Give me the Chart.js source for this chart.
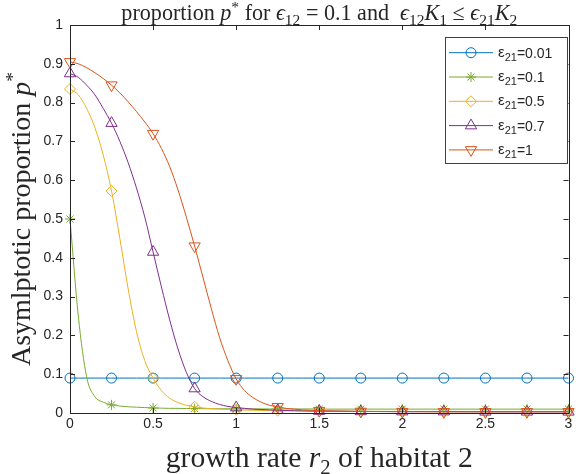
<!DOCTYPE html>
<html>
<head>
<meta charset="utf-8">
<script src="https://cdn.jsdelivr.net/npm/chart.js@4.4.1/dist/chart.umd.min.js"></script>
<style>
  html, body { margin: 0; padding: 0; background: #fff; }
  canvas { display: block; }
</style>
</head>
<body>
<canvas id="chart" width="576" height="474"></canvas>
<script>
// growth rate r2 (x samples), markers sit on the multiples of 0.25
const r2 = [0, 0.05, 0.1, 0.15, 0.2, 0.25, 0.3, 0.35, 0.4, 0.45, 0.5, 0.55, 0.6, 0.65, 0.7, 0.75, 0.8, 0.85, 0.9, 0.95,
  1, 1.05, 1.1, 1.15, 1.2, 1.25, 1.3, 1.35, 1.4, 1.45, 1.5, 1.75, 2, 2.25, 2.5, 2.75, 3]

const eps21 = ['0.01', '0.1', '0.5', '0.7', '1']

const pEps001 = [0.09, 0.09, 0.09, 0.09, 0.09, 0.09, 0.09, 0.09, 0.09, 0.09, 0.09, 0.09, 0.09, 0.09, 0.09, 0.09, 0.09, 0.09, 0.09, 0.09,
  0.09, 0.09, 0.09, 0.09, 0.09, 0.09, 0.09, 0.09, 0.09, 0.09, 0.09, 0.09, 0.09, 0.09, 0.09, 0.09, 0.09]
const pEps01 = [0.5, 0.25, 0.093, 0.042, 0.028, 0.021, 0.018, 0.016, 0.015, 0.014, 0.013, 0.0125, 0.012, 0.012, 0.0115, 0.0115, 0.011, 0.011, 0.011, 0.011,
  0.0105, 0.0105, 0.0105, 0.0105, 0.0105, 0.0105, 0.0105, 0.0105, 0.0105, 0.0105, 0.01, 0.01, 0.01, 0.01, 0.01, 0.01, 0.01]
const pEps05 = [0.835, 0.82, 0.785, 0.735, 0.665, 0.572, 0.45, 0.32, 0.21, 0.135, 0.09, 0.058, 0.038, 0.027, 0.02, 0.016, 0.013, 0.011, 0.01, 0.009,
  0.008, 0.0075, 0.007, 0.0065, 0.006, 0.006, 0.0055, 0.0055, 0.005, 0.005, 0.005, 0.0045, 0.004, 0.004, 0.004, 0.004, 0.004]
const pEps07 = [0.875, 0.865, 0.845, 0.82, 0.785, 0.747, 0.7, 0.645, 0.58, 0.505, 0.415, 0.325, 0.24, 0.165, 0.105, 0.063, 0.042, 0.03, 0.022, 0.017,
  0.014, 0.012, 0.01, 0.009, 0.008, 0.007, 0.0065, 0.006, 0.0055, 0.005, 0.005, 0.004, 0.0035, 0.0035, 0.003, 0.003, 0.003]
const pEps1 = [0.905, 0.9, 0.89, 0.877, 0.862, 0.845, 0.825, 0.802, 0.777, 0.75, 0.72, 0.682, 0.635, 0.575, 0.505, 0.43, 0.35, 0.27, 0.195, 0.135,
  0.088, 0.058, 0.04, 0.028, 0.02, 0.016, 0.012, 0.01, 0.008, 0.007, 0.006, 0.004, 0.0035, 0.003, 0.003, 0.003, 0.003]

const xTicks = [0, 0.5, 1, 1.5, 2, 2.5, 3]
const yTicks = [0, 0.1, 0.2, 0.3, 0.4, 0.5, 0.6, 0.7, 0.8, 0.9, 1]

const SERIES = [
  { label: eps21[0], data: pEps001, color: '#0072BD', style: 'circle', rot: 0, r: 5, order: 4 },
  { label: eps21[1], data: pEps01, color: '#77AC30', style: 'star', rot: 0, r: 5, order: 3 },
  { label: eps21[2], data: pEps05, color: '#EDB120', style: 'rectRot', rot: 0, r: 5.5, order: 2 },
  { label: eps21[3], data: pEps07, color: '#7E2F8E', style: 'triangle', rot: 0, r: 6.5, order: 1 },
  { label: eps21[4], data: pEps1, color: '#D95319', style: 'triangle', rot: 180, r: 6.5, order: 0 },
]

const AX = '#262626'
const SANS = "'Liberation Sans', Arial, Helvetica, sans-serif"
const SERIF = "'Liberation Serif', 'DejaVu Serif', serif"

const onMarker = (x) => Math.abs(x * 4 - Math.round(x * 4)) < 1e-6

// --- rich text (italics / sub / superscripts) ---
function runFont(r, size, family) {
  const s = r.sub || r.sup ? size * 0.7 : size
  return (r.i ? 'italic ' : '') + s.toFixed(2) + 'px ' + family
}
function richWidth(ctx, runs, size, family) {
  let w = 0
  for (const r of runs) { ctx.font = runFont(r, size, family); w += ctx.measureText(r.t).width }
  return w
}
function drawRich(ctx, runs, cx, y, size, family) {
  const w = richWidth(ctx, runs, size, family)
  let x = cx - w / 2
  ctx.textAlign = 'left'
  ctx.textBaseline = 'alphabetic'
  for (const r of runs) {
    ctx.font = runFont(r, size, family)
    const dy = r.sub ? size * 0.22 : r.sup ? -size * 0.38 : 0
    ctx.fillText(r.t, x, y + dy)
    x += ctx.measureText(r.t).width
  }
}
function fitSize(ctx, runs, family, target) {
  return 20 * target / richWidth(ctx, runs, 20, family)
}

const titleRuns = [
  { t: 'proportion ' }, { t: 'p', i: true }, { t: '*', sup: true }, { t: ' for ' },
  { t: 'ϵ', i: true }, { t: '12', sub: true }, { t: ' = 0.1 and  ' },
  { t: 'ϵ', i: true }, { t: '12', sub: true }, { t: 'K', i: true }, { t: '1', sub: true }, { t: ' ≤ ' },
  { t: 'ϵ', i: true }, { t: '21', sub: true }, { t: 'K', i: true }, { t: '2', sub: true },
]
const xLabelRuns = [{ t: 'growth rate ' }, { t: 'r', i: true }, { t: '2', sub: true }, { t: ' of habitat 2' }]
const yLabelRuns = [{ t: 'Asymlptotic proportion ' }, { t: 'p', i: true }, { t: '*', sup: true }]

const decorations = {
  id: 'decorations',
  afterDatasetsDraw(chart) {
    const { ctx, chartArea: { left, right, top, bottom }, scales: { x, y } } = chart
    ctx.save()
    ctx.strokeStyle = AX
    ctx.lineWidth = 1
    ctx.beginPath()
    ctx.rect(Math.round(left) + 0.5, Math.round(top) + 0.5, Math.round(right - left), Math.round(bottom - top))
    xTicks.forEach((v) => {
      const px = Math.round(x.getPixelForValue(v)) + 0.5
      ctx.moveTo(px, bottom); ctx.lineTo(px, bottom - 5)
      ctx.moveTo(px, top); ctx.lineTo(px, top + 5)
    })
    yTicks.forEach((v) => {
      const py = Math.round(y.getPixelForValue(v)) + 0.5
      ctx.moveTo(left, py); ctx.lineTo(left + 5, py)
      ctx.moveTo(right, py); ctx.lineTo(right - 5, py)
    })
    ctx.stroke()
    ctx.restore()
  },
  afterDraw(chart) {
    const { ctx, chartArea: { left, right, top, bottom } } = chart
    const cx = (left + right) / 2
    ctx.save()
    ctx.fillStyle = AX
    drawRich(ctx, titleRuns, cx, 20, fitSize(ctx, titleRuns, SERIF, 396), SERIF)
    drawRich(ctx, xLabelRuns, cx, 467, fitSize(ctx, xLabelRuns, SERIF, 307), SERIF)
    ctx.translate(30, (top + bottom) / 2)
    ctx.rotate(-Math.PI / 2)
    drawRich(ctx, yLabelRuns, 0, 0, fitSize(ctx, yLabelRuns, SERIF, 294), SERIF)
    ctx.restore()

    // legend box
    const bx = 445, by = 37, bw = 122, bh = 126
    ctx.save()
    ctx.fillStyle = '#fff'
    ctx.fillRect(bx, by, bw, bh)
    ctx.strokeStyle = '#404040'
    ctx.lineWidth = 1
    ctx.strokeRect(bx + 0.5, by + 0.5, bw, bh)
    SERIES.forEach((s, i) => {
      const ry = 52.7 + i * 24.3
      ctx.strokeStyle = s.color
      ctx.lineWidth = 1
      ctx.beginPath()
      ctx.moveTo(449, ry); ctx.lineTo(493, ry)
      ctx.stroke()
      ctx.fillStyle = 'rgba(0,0,0,0)'
      Chart.helpers.drawPoint(ctx, { pointStyle: s.style, rotation: s.rot, radius: s.r, borderWidth: 1 }, 471, ry)
      ctx.fillStyle = AX
      ctx.textAlign = 'left'
      ctx.textBaseline = 'alphabetic'
      let tx = 498
      const base = ry + 5
      ctx.font = '15px ' + SANS
      ctx.fillText('ε', tx, base - 1)
      tx += ctx.measureText('ε').width
      ctx.font = '11px ' + SANS
      ctx.fillText('21', tx, base + 3)
      tx += ctx.measureText('21').width
      ctx.font = '14px ' + SANS
      ctx.fillText('=' + s.label, tx, base)
    })
    ctx.restore()
  },
}

new Chart(document.getElementById('chart'), {
  type: 'line',
  data: {
    datasets: SERIES.map((s) => ({
      label: s.label,
      data: r2.map((x, i) => ({ x, y: s.data[i] })),
      borderColor: s.color,
      borderWidth: 1,
      backgroundColor: 'rgba(0,0,0,0)',
      pointStyle: s.style,
      pointRotation: s.rot,
      pointBorderColor: s.color,
      pointBackgroundColor: 'rgba(0,0,0,0)',
      pointBorderWidth: 1,
      pointRadius: (c) => (onMarker(r2[c.dataIndex]) ? s.r : 0),
      pointHoverRadius: 0,
      cubicInterpolationMode: 'monotone',
      clip: false,
      order: s.order,
    })),
  },
  options: {
    responsive: false,
    animation: false,
    layout: { padding: { top: 25, right: 6, left: 0, bottom: 0 } },
    plugins: { legend: { display: false }, title: { display: false }, tooltip: { enabled: false } },
    scales: {
      x: {
        type: 'linear', min: 0, max: 3,
        afterBuildTicks: (s) => { s.ticks = xTicks.map((v) => ({ value: v })) },
        ticks: { color: AX, font: { family: SANS, size: 14 }, padding: 3, maxRotation: 0, callback: (v) => String(v) },
        grid: { display: false, drawTicks: false },
        border: { display: false },
        afterFit: (s) => { s.height = 61 },
      },
      y: {
        min: 0, max: 1,
        afterBuildTicks: (s) => { s.ticks = yTicks.map((v) => ({ value: v })) },
        ticks: { color: AX, font: { family: SANS, size: 14 }, padding: 7, callback: (v) => String(v) },
        grid: { display: false, drawTicks: false },
        border: { display: false },
        afterFit: (s) => { s.width = 70 },
      },
    },
  },
  plugins: [decorations],
})
</script>
</body>
</html>
